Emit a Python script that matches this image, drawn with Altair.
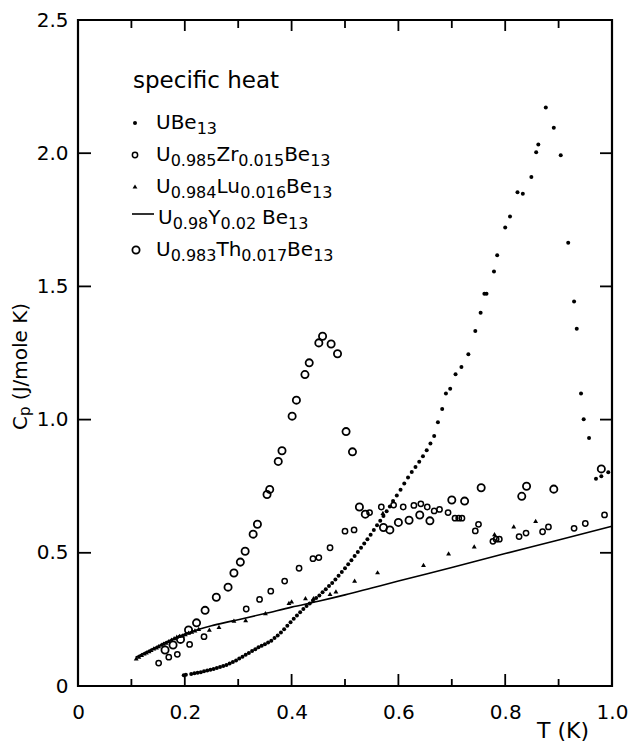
import altair as alt
import pandas as pd

# ---------------- data ----------------
UBE_T = [0.198, 0.202, 0.212, 0.218, 0.224, 0.230, 0.236, 0.242, 0.248, 0.254,
         0.260, 0.266, 0.272, 0.278, 0.284, 0.290, 0.296, 0.302, 0.308, 0.314,
         0.320, 0.326, 0.332, 0.338, 0.344, 0.350, 0.356, 0.362, 0.368, 0.374,
         0.380, 0.386, 0.392, 0.398, 0.404, 0.410, 0.416, 0.422, 0.428, 0.434,
         0.440, 0.446, 0.452, 0.458, 0.464, 0.470, 0.476, 0.482, 0.488, 0.494,
         0.500, 0.506, 0.512, 0.518, 0.524, 0.530, 0.536, 0.542, 0.548, 0.554,
         0.560, 0.566, 0.572, 0.578, 0.584, 0.590, 0.597, 0.604, 0.611, 0.618,
         0.625, 0.632, 0.639, 0.646, 0.653, 0.660, 0.667, 0.674, 0.682, 0.689,
         0.697, 0.707, 0.718, 0.731, 0.744, 0.754, 0.761, 0.765, 0.779, 0.785,
         0.800, 0.809, 0.823, 0.833, 0.849, 0.858, 0.862, 0.876, 0.891, 0.904,
         0.918, 0.929, 0.934, 0.942, 0.947, 0.957, 0.970, 0.980, 0.993]
UBE_C = [0.040, 0.042, 0.045, 0.048, 0.050, 0.052, 0.055, 0.058, 0.061, 0.064,
         0.068, 0.071, 0.075, 0.079, 0.084, 0.090, 0.096, 0.103, 0.110, 0.117,
         0.124, 0.131, 0.138, 0.145, 0.151, 0.157, 0.163, 0.170, 0.180, 0.190,
         0.201, 0.213, 0.226, 0.239, 0.252, 0.265, 0.277, 0.289, 0.300, 0.310,
         0.320, 0.330, 0.340, 0.352, 0.363, 0.375, 0.387, 0.400, 0.414, 0.428,
         0.442, 0.457, 0.472, 0.488, 0.503, 0.519, 0.535, 0.551, 0.568, 0.586,
         0.603, 0.620, 0.638, 0.656, 0.674, 0.694, 0.715, 0.737, 0.760, 0.783,
         0.803, 0.822, 0.842, 0.862, 0.885, 0.910, 0.938, 0.990, 1.040, 1.098,
         1.116, 1.170, 1.197, 1.245, 1.333, 1.401, 1.472, 1.472, 1.556, 1.617,
         1.721, 1.762, 1.853, 1.848, 1.911, 2.004, 2.033, 2.172, 2.096, 1.992,
         1.664, 1.443, 1.341, 1.098, 1.001, 0.931, 0.778, 0.787, 0.802]

ZR_T = [0.151, 0.170, 0.186, 0.209, 0.236, 0.315, 0.340, 0.361, 0.387, 0.414,
        0.440, 0.451, 0.472, 0.500, 0.517, 0.546, 0.568, 0.591, 0.609, 0.629,
        0.642, 0.654, 0.667, 0.677, 0.693, 0.706, 0.713, 0.719, 0.744, 0.750,
        0.777, 0.783, 0.789, 0.826, 0.839, 0.870, 0.881, 0.929, 0.950, 0.986]
ZR_C = [0.086, 0.108, 0.119, 0.156, 0.185, 0.289, 0.325, 0.356, 0.394, 0.442,
        0.478, 0.482, 0.519, 0.581, 0.586, 0.651, 0.672, 0.679, 0.672, 0.678,
        0.684, 0.672, 0.657, 0.663, 0.651, 0.630, 0.630, 0.630, 0.582, 0.607,
        0.543, 0.551, 0.551, 0.561, 0.574, 0.579, 0.597, 0.592, 0.610, 0.642]

LU_T = [0.109, 0.114, 0.119, 0.124, 0.128, 0.133, 0.137, 0.142, 0.147, 0.151,
        0.156, 0.160, 0.165, 0.170, 0.175, 0.180, 0.185, 0.190, 0.196, 0.201,
        0.207, 0.213, 0.219, 0.226, 0.246, 0.264, 0.292, 0.314, 0.351, 0.395,
        0.400, 0.426, 0.441, 0.472, 0.483, 0.518, 0.561, 0.571, 0.647, 0.694,
        0.742, 0.780, 0.816, 0.857]
LU_C = [0.104, 0.110, 0.117, 0.122, 0.126, 0.131, 0.136, 0.141, 0.145, 0.150,
        0.155, 0.159, 0.163, 0.168, 0.174, 0.180, 0.185, 0.188, 0.190, 0.195,
        0.200, 0.204, 0.209, 0.214, 0.212, 0.222, 0.245, 0.247, 0.274, 0.312,
        0.318, 0.330, 0.330, 0.346, 0.355, 0.396, 0.427, 0.650, 0.455, 0.498,
        0.524, 0.570, 0.599, 0.620]

Y_T = [0.108, 0.120, 0.140, 0.160, 0.180, 0.200, 0.225, 0.250, 0.275, 0.300,
       0.350, 0.400, 0.450, 0.500, 0.550, 0.600, 0.700, 0.800, 0.900, 1.000]
Y_C = [0.108, 0.120, 0.140, 0.160, 0.178, 0.195, 0.212, 0.226, 0.238, 0.249,
       0.272, 0.296, 0.318, 0.342, 0.368, 0.394, 0.445, 0.497, 0.548, 0.600]

TH_T = [0.163, 0.178, 0.192, 0.207, 0.222, 0.238, 0.259, 0.281, 0.292, 0.304,
        0.313, 0.328, 0.336, 0.354, 0.359, 0.375, 0.382, 0.401, 0.409, 0.425,
        0.433, 0.451, 0.458, 0.474, 0.486, 0.502, 0.514, 0.527, 0.538, 0.572,
        0.584, 0.600, 0.620, 0.640, 0.659, 0.700, 0.724, 0.755, 0.831, 0.840,
        0.891, 0.980]
TH_C = [0.135, 0.154, 0.175, 0.210, 0.237, 0.284, 0.333, 0.371, 0.424, 0.465,
        0.506, 0.570, 0.607, 0.719, 0.738, 0.843, 0.883, 1.013, 1.073, 1.169,
        1.213, 1.288, 1.313, 1.284, 1.247, 0.955, 0.879, 0.672, 0.645, 0.595,
        0.586, 0.614, 0.622, 0.642, 0.620, 0.698, 0.694, 0.744, 0.712, 0.750,
        0.739, 0.815]

X_LABELS = [0, 0.2, 0.4, 0.6, 0.8, 1.0]
Y_LABELS = [0, 0.5, 1.0, 1.5, 2.0, 2.5]
X_MAJOR = [0.2, 0.4, 0.6, 0.8]
X_MINOR = [0.1, 0.3, 0.5, 0.7, 0.9]
Y_MAJOR = [0.5, 1.0, 1.5, 2.0]

# ---------------- layout ----------------
W, H = 534, 666
FONT = "DejaVu Sans"
FRAME = "black"
xs = alt.Scale(domain=[0, 1], nice=False, zero=False)
ys = alt.Scale(domain=[0, 2.5], nice=False, zero=False)
LBL = "datum.value == 0 ? '0' : format(datum.value, '.1f')"
x_axis = alt.Axis(values=X_LABELS, labelExpr=LBL, title=None, ticks=False, domain=False,
                  grid=False, labelFont=FONT, labelFontSize=20, labelColor="black",
                  labelPadding=16, labelFlush=False, labelOverlap=False)
y_axis = alt.Axis(values=Y_LABELS, labelExpr=LBL, title=None, ticks=False, domain=False,
                  grid=False, labelFont=FONT, labelFontSize=20, labelColor="black",
                  labelPadding=10, labelFlush=False, labelOverlap=False)


def df(t, c):
    return pd.DataFrame({"T": t, "Cp": c})


X = alt.X("T:Q", scale=xs, axis=x_axis)
Yc = alt.Y("Cp:Q", scale=ys, axis=y_axis)
dummy = pd.DataFrame({"a": [0]})

layers = []
layers.append(alt.Chart(df(Y_T, Y_C)).mark_line(color="black", strokeWidth=1.6,
                                                 interpolate="monotone").encode(x=X, y=Yc))
layers.append(alt.Chart(df(UBE_T, UBE_C)).mark_circle(size=16, color="black", opacity=1)
              .encode(x=X, y=Yc))
layers.append(alt.Chart(df(ZR_T, ZR_C)).mark_point(shape="circle", filled=False, size=28,
                                                   strokeWidth=1.5, color="black", opacity=1)
              .encode(x=X, y=Yc))
layers.append(alt.Chart(df(TH_T, TH_C)).mark_point(shape="circle", filled=False, size=52,
                                                   strokeWidth=1.8, color="black", opacity=1)
              .encode(x=X, y=Yc))
layers.append(alt.Chart(df(LU_T, LU_C)).mark_point(shape="triangle-up", filled=True, size=24,
                                                   color="black", opacity=1)
              .encode(x=X, y=Yc))

# inward ticks on all four sides
tx_major = pd.DataFrame({"T": X_MAJOR})
tx_minor = pd.DataFrame({"T": X_MINOR})
ty_major = pd.DataFrame({"Cp": Y_MAJOR})
RULE = dict(color=FRAME, strokeWidth=1.8)
for d, ln_b, ln_t in [(tx_major, 12, 11), (tx_minor, 7, 8)]:
    layers.append(alt.Chart(d).mark_rule(**RULE).encode(
        x=X, y=alt.value(H), y2=alt.value(H - ln_b)))
    layers.append(alt.Chart(d).mark_rule(**RULE).encode(
        x=X, y=alt.value(0), y2=alt.value(ln_t)))
layers.append(alt.Chart(ty_major).mark_rule(**RULE).encode(
    y=Yc, x=alt.value(0), x2=alt.value(13)))
layers.append(alt.Chart(ty_major).mark_rule(**RULE).encode(
    y=Yc, x=alt.value(W), x2=alt.value(W - 12)))

# ---------------- text (legend + axis titles) ----------------
EM = {"U": 0.732, "B": 0.686, "e": 0.615, "Z": 0.685, "r": 0.411, "L": 0.557,
      "u": 0.634, "Y": 0.611, "T": 0.611, "h": 0.634, ".": 0.318, " ": 0.318,
      "C": 0.698, "p": 0.635}


def tw(s, fs):
    return sum(EM.get(ch, 0.636) for ch in s) * fs


def text_layer(txt, x, y, fs, angle=0):
    kw = dict(font=FONT, fontSize=fs, color="black", align="left", baseline="alphabetic")
    if angle:
        kw["angle"] = angle
    return alt.Chart(dummy).mark_text(**kw).encode(
        x=alt.value(x), y=alt.value(y), text=alt.value(txt))


MAIN, SUB, SHIFT = 20, 16, 5
LEGEND_ROWS = [
    ["UBe", "_13"],
    ["U", "_0.985", "Zr", "_0.015", "Be", "_13"],
    ["U", "_0.984", "Lu", "_0.016", "Be", "_13"],
    ["U", "_0.98", "Y", "_0.02", "+Be", "_13"],
    ["U", "_0.983", "Th", "_0.017", "Be", "_13"],
]
ROW_BASE = [109, 141, 172.5, 204, 236]
ROW_X = [78, 78, 78, 80, 78]

layers.append(text_layer("specific heat", 55, 68, 23))
for segs, yb, x0 in zip(LEGEND_ROWS, ROW_BASE, ROW_X):
    x = x0
    for s in segs:
        if s.startswith("_"):
            t = s[1:]
            layers.append(text_layer(t, x, yb + SHIFT, SUB))
            x += tw(t, SUB)
        else:
            if s.startswith("+"):
                s = s[1:]
                x += 6
            layers.append(text_layer(s, x, yb, MAIN))
            x += tw(s, MAIN)

# legend symbols
layers.append(alt.Chart(dummy).mark_circle(size=16, color="black", opacity=1)
              .encode(x=alt.value(57), y=alt.value(103)))
layers.append(alt.Chart(dummy).mark_point(shape="circle", filled=False, size=28,
                                          strokeWidth=1.5, color="black", opacity=1)
              .encode(x=alt.value(57), y=alt.value(135)))
layers.append(alt.Chart(dummy).mark_point(shape="triangle-up", filled=True, size=24,
                                          color="black", opacity=1)
              .encode(x=alt.value(57), y=alt.value(166.5)))
layers.append(alt.Chart(dummy).mark_rule(color="black", strokeWidth=1.6)
              .encode(x=alt.value(54), x2=alt.value(76), y=alt.value(194)))
layers.append(alt.Chart(dummy).mark_point(shape="circle", filled=False, size=52,
                                          strokeWidth=1.8, color="black", opacity=1)
              .encode(x=alt.value(58), y=alt.value(230)))

# y-axis title  C_p (J/mole K), rotated
TS, TSUB = 20, 15
ty0 = 410
layers.append(text_layer("C", -51, ty0, TS, 270))
ty1 = ty0 - tw("C", TS)
layers.append(text_layer("p", -48, ty1, TSUB, 270))
ty2 = ty1 - tw("p", TSUB) - tw(" ", TS)
layers.append(text_layer("(J/mole K)", -51, ty2, TS, 270))

# x-axis title
layers.append(text_layer("T (K)", 459, 718, 22))

chart = alt.layer(*layers).properties(
    width=W, height=H,
    padding={"left": 70, "top": 12, "right": 16, "bottom": 56},
    autosize=alt.AutoSizeParams(type="none"),
    background="white",
).configure_view(stroke=FRAME, strokeWidth=2.2)

chart.save("out.html", embed_options={"renderer": "svg", "actions": False})
